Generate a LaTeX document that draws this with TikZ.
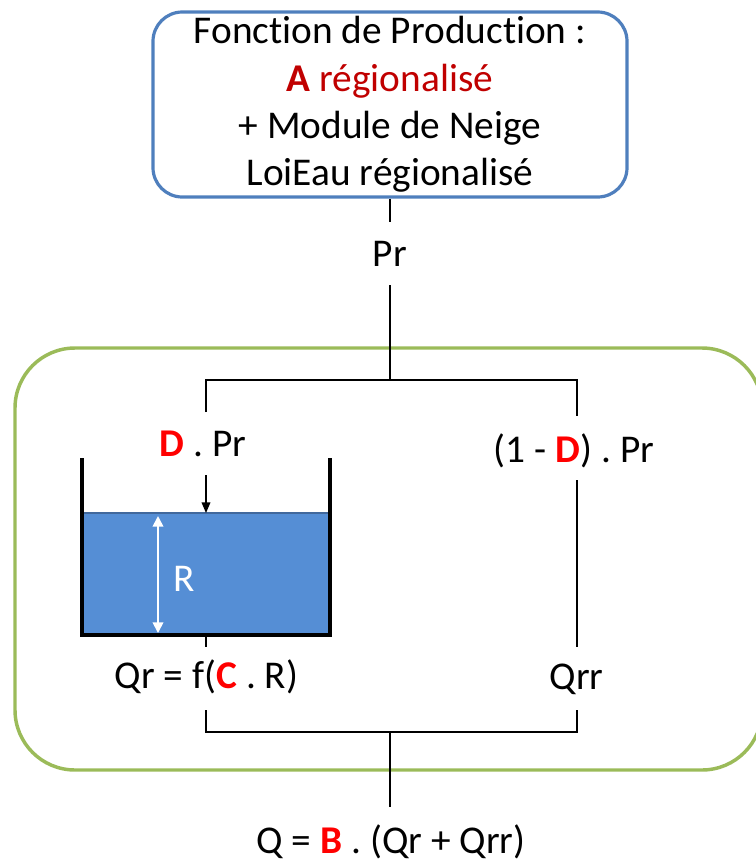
\documentclass[tikz,border=0pt]{standalone}
\usepackage{fontspec}
\setmainfont{Carlito}[Ligatures={NoCommon,NoRare,NoContextual}]
\usetikzlibrary{arrows.meta}
\definecolor{boxblue}{HTML}{4F7FBD}
\definecolor{boxgreen}{HTML}{9BBB59}
\definecolor{darkred}{HTML}{C00000}
\definecolor{brightred}{HTML}{FF0000}
\definecolor{water}{HTML}{558ED5}
\definecolor{waterline}{HTML}{41689C}
\tikzset{
  lbl/.style={inner sep=0pt, anchor=base, font=\fontsize{29.5}{35}\selectfont},
  conn/.style={draw=black, line width=1.1pt},
  wall/.style={draw=black, line width=2.8pt},
}
\newcommand{\rd}[1]{\textcolor{brightred}{\textbf{#1}}}
\begin{document}
\begin{tikzpicture}[x=0.75pt,y=-0.75pt]
\useasboundingbox (0,0) rectangle (756,861);
\begin{scope}
\clip (0,0) rectangle (756,861);
\draw[boxgreen, line width=2.6pt, rounded corners=45pt] (15,348) rectangle (762,770);
\end{scope}
% top box
\node (top) [draw=boxblue, line width=2.4pt, rounded corners=22pt, minimum width=355.5pt, minimum height=138.75pt, inner sep=0pt, align=center, font=\fontsize{29.5}{35.5}\selectfont] at (390,104.5)
 {Fonction de Production :\\ \textcolor{darkred}{\textbf{A} régionalisé}\\ + Module de Neige\\ LoiEau régionalisé};
\node (pr) [lbl] at (390,266) {Pr};
\coordinate (prtop) at (390,222);
\coordinate (prbot) at (390,285);
\coordinate (split) at (390,380);
\coordinate (sl) at (206,380);
\coordinate (sr) at (577,380);
\coordinate (slend) at (206,412);
\coordinate (srend) at (577,416);
\node (dpr) [lbl] at (203,456) {\rd{D} . Pr};
\node (odpr) [lbl] at (574,462) {(1 - \rd{D}) . Pr};
% tank
\fill[water] (82,513) rectangle (330,635);
\draw[waterline, line width=1.2pt] (82,513) -- (330,513);
\coordinate (wtop) at (206,513);
\coordinate (astart) at (206,475);
\draw[wall] (82,458) -- (82,635) -- (330,635) -- (330,458);
\coordinate (tbot) at (206,635);
\coordinate (tick) at (206,647);
\draw[white, line width=1.3pt, {Triangle[length=8pt,width=8pt]}-{Triangle[length=8pt,width=8pt]}] (158,516) -- (158,633);
\node (r) [lbl, text=white] at (184,591) {R};
\coordinate (rtop) at (577,480);
\coordinate (rbot) at (577,647);
\node (qr) [lbl] at (206.5,688) {Qr = f(\rd{C} . R)};
\node (qrr) [lbl] at (576.5,689) {Qrr};
\coordinate (ql) at (206,710);
\coordinate (qrrb) at (577,710);
\coordinate (jl) at (206,732);
\coordinate (jr) at (577,732);
\coordinate (join) at (390,732);
\coordinate (qtop) at (390,807);
\node (q) [lbl] at (391,853) {Q = \rd{B} . (Qr + Qrr)};
% connectors
\draw[conn] (top.south) -- (prtop);
\draw[conn] (prbot) -- (split);
\draw[conn] (slend) -- (sl) -- (sr) -- (srend);
\draw[conn, -{Triangle[length=8pt,width=6.5pt]}] (astart) -- (wtop);
\draw[conn] (rtop) -- (rbot);
\draw[conn] (tbot) -- (tick);
\draw[conn] (ql) -- (jl) -- (jr) -- (qrrb);
\draw[conn] (join) -- (qtop);
\end{tikzpicture}
\end{document}
